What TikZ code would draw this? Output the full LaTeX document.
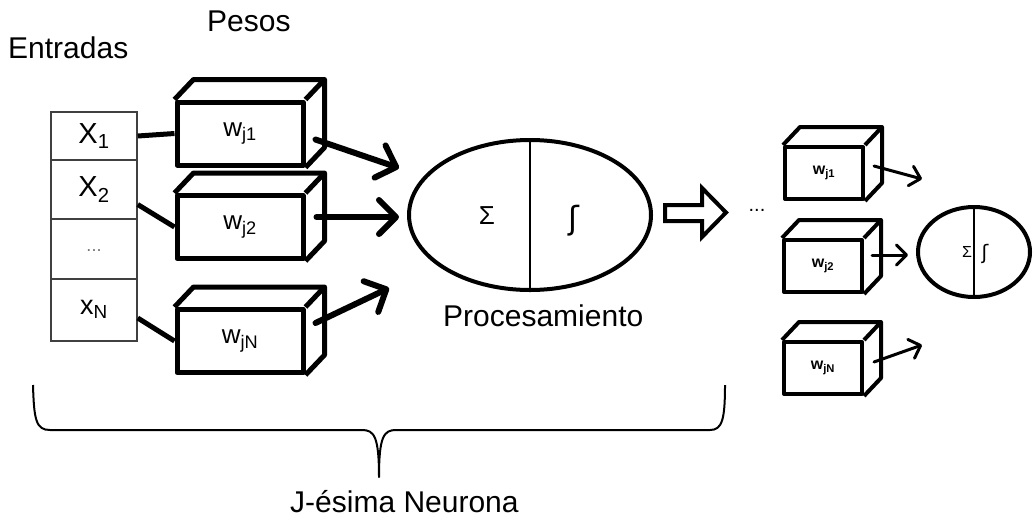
\documentclass[tikz,border=0pt]{standalone}
\usepackage{fontspec}
\setmainfont{Liberation Sans}
\newfontfamily\djv{DejaVu Sans}
\usetikzlibrary{arrows.meta,shapes.geometric,calc}
\begin{document}
\begin{tikzpicture}[x=1pt,y=-1pt,
  lbl/.style={inner sep=0pt,font=\fontsize{30}{32}\selectfont},
  cell/.style={draw=black!75,line width=1.5pt,minimum width=86pt,inner sep=0pt,font=\fontsize{29}{31}\selectfont},
  wbox/.style={draw,line width=5pt,minimum width=126pt,minimum height=63pt,inner sep=0pt,line join=round,font=\fontsize{26}{28}\selectfont},
  face/.style={line width=5pt,line join=round},
  sbox/.style={draw,line width=4pt,minimum width=78pt,minimum height=52pt,inner sep=0pt,line join=round,font=\bfseries\fontsize{16}{18}\selectfont},
  sface/.style={line width=4pt,line join=round},
  link/.style={line width=5pt},
  arr/.style={line width=6pt,line cap=round,-{Straight Barb[length=17pt,width=34pt,round]}},
  sarr/.style={line width=3pt,line cap=round,-{Straight Barb[length=10pt,width=20pt,round]}},
  brace/.style={line width=2pt,line join=round}
]
\useasboundingbox (0,0) rectangle (1033,517);

% labels
\node[lbl,anchor=base west] (entradas) at (8,58) {Entradas};
\node[lbl,anchor=base west] (pesos) at (207,31) {Pesos};

% input table
\node[cell,minimum height=48pt] (r1) at (94,136) {X\textsubscript{1}};
\node[cell,minimum height=59pt] (r2) at (94,189.5) {X\textsubscript{2}};
\node[cell,minimum height=60pt,text=black!55,font=\fontsize{18}{20}\selectfont] (r3) at (94,249) {\raisebox{-4pt}{...}};
\node[cell,minimum height=62pt,font=\fontsize{27}{29}\selectfont] (r4) at (94,310) {\raisebox{6pt}{x\textsubscript{N}}};

% weight boxes
\node[wbox] (w1) at (240,133.5) {w\textsubscript{j1}};
\node[wbox] (w2) at (240,227) {w\textsubscript{j2}};
\node[wbox] (w3) at (240,341) {w\textsubscript{jN}};
\foreach \n in {w1,w2,w3}{
  \draw[face] (\n.north west) -- ++(19,-20) -| ($(\n.south east)+(19,-20)$) -- (\n.south east);
  \draw[face] (\n.north east) -- ++(19,-20);
}

% links table -> boxes
\draw[link] (r1.east) -- (w1.west);
\draw[link] ($(r2.east)+(0,15)$) -- (w2.west);
\draw[link] ($(r4.east)+(0,8)$) -- (w3.west);

% neuron
\node[draw,ellipse,line width=4pt,minimum width=242pt,minimum height=150pt,inner sep=0pt] (neuron) at (530,215) {};
\draw[line width=2pt] (neuron.north) -- (neuron.south);
\node[inner sep=0pt,font=\fontsize{26}{28}\selectfont] (sigma) at (487,216) {Σ};
\node[inner sep=0pt,font=\djv\fontsize{32}{34}\selectfont] (fun) at (574,221) {ʃ};
\node[lbl,anchor=base west] (proc) at (443,326) {Procesamiento};

% arrows boxes -> neuron
\draw[arr] ($(w1.east)+(10,6)$) -- ($(neuron.west)+(-8,-47)$);
\draw[arr] ($(w2.east)+(11,-10)$) -- ($(neuron.west)+(-8,2)$);
\draw[arr] ($(w3.east)+(10,-18)$) -- ($(neuron.west)+(-18,73)$);

% hollow arrow
\draw[line width=4pt,line join=miter,fill=white] (665,205) -- (702,205) -- (702,188) -- (726,212.5) -- (702,237) -- (702,221) -- (665,221) -- cycle;
\node[inner sep=0pt,font=\fontsize{20}{22}\selectfont] (dots) at (757,210) {...};

% small network
\node[sbox] (sa) at (824,173) {w\textsubscript{j1}};
\node[sbox] (sb) at (823,266) {w\textsubscript{j2}};
\node[sbox] (sc) at (823,368) {w\textsubscript{jN}};
\foreach \n in {sa,sb,sc}{
  \draw[sface] (\n.north west) -- ++(17,-18) -| ($(\n.south east)+(17,-18)$) -- (\n.south east);
  \draw[sface] (\n.north east) -- ++(17,-18);
}
\node[draw,ellipse,line width=4pt,minimum width=112pt,minimum height=90pt,inner sep=0pt] (sn) at (974,252) {};
\draw[line width=1.5pt] (sn.north) -- (sn.south);
\node[inner sep=0pt,font=\fontsize{16}{18}\selectfont] (ssigma) at (967,252) {Σ};
\node[inner sep=0pt,font=\djv\fontsize{20}{22}\selectfont] (sfun) at (985,254) {ʃ};
\coordinate (ea) at (922,179);
\coordinate (ec) at (922,345);
\draw[sarr] ($(sa.east)+(9,-7)$) -- (ea);
\draw[sarr] ($(sb.east)+(8,-11)$) -- ($(sn.west)+(-8,3)$);
\draw[sarr] ($(sc.east)+(10,-6)$) -- (ec);

% brace
\draw[brace] (33,385) .. controls (34,420) and (36,430) .. (50,430) -- (362,430)
  .. controls (374,430) and (379,436) .. (379,477)
  .. controls (379,436) and (384,430) .. (396,430) -- (710,430)
  .. controls (722,430) and (725,420) .. (725,385);
\node[lbl,anchor=base west] (jn) at (290,512) {J-ésima Neurona};
\end{tikzpicture}
\end{document}
